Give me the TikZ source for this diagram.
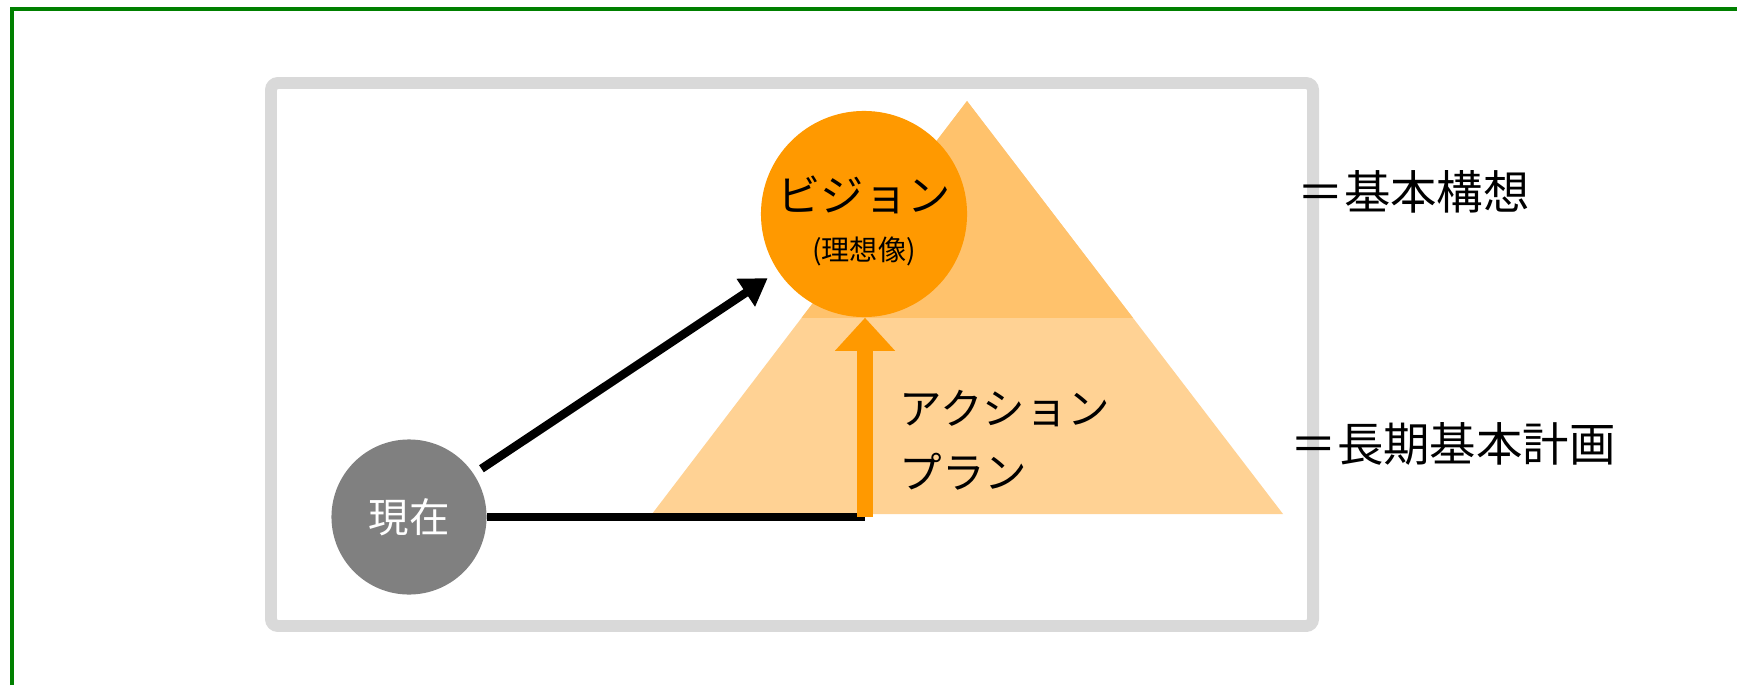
\documentclass[tikz,border=0pt]{standalone}
\usepackage{fontspec}
\setmainfont{Noto Sans CJK JP}
\usetikzlibrary{arrows.meta,positioning}
\definecolor{framegreen}{RGB}{0,128,0}
\definecolor{boxgray}{RGB}{217,217,217}
\definecolor{nowgray}{RGB}{128,128,128}
\definecolor{visionorange}{RGB}{255,153,0}
\definecolor{pyrlight}{RGB}{255,210,148}
\definecolor{pyrdark}{RGB}{255,194,108}

\begin{document}
\begin{tikzpicture}[x=0.01cm,y=-0.01cm,  %one unit is one pixel of the reference
		now/.style={circle,fill=nowgray,text=white,inner sep=0mm,minimum size=1.55cm,font=\fontsize{11.5}{14}\selectfont},
		vision/.style={circle,fill=visionorange,inner sep=0mm,minimum size=2.06cm},
		vision text/.style={align=center,inner sep=0mm,font=\fontsize{12.3}{13.9}\selectfont},
		plan text/.style={anchor=west,align=left,inner sep=0mm,font=\fontsize{12.1}{18.2}\selectfont},
		eq text/.style={anchor=west,inner sep=0mm,font=\fontsize{13.2}{16}\selectfont},
		J arrow/.style={line width=2.4pt,-{Triangle[width=9pt,length=7.5pt]}},
		plan arrow/.style={draw=visionorange,line width=4.4pt,-{Triangle[width=16.5pt,length=9.4pt]}}
	]
	\useasboundingbox (0,0) rectangle (1737,685);
	% frame and box
	\draw[framegreen,line width=1.3pt] (12,685) -- (12,9) -- (1737,9);
	\draw[boxgray,line width=3.4pt,rounded corners=2pt] (271,83) rectangle (1313,626);
	% pyramid
	\coordinate (apex) at (967,101);
	\coordinate (pyrleft) at (652,514);
	\coordinate (pyrright) at (1283,514);
	\fill[pyrlight] (apex) -- (pyrleft) -- (pyrright) -- cycle;
	\begin{scope}
		\clip (0,0) rectangle (1737,317);
		\fill[pyrdark] (apex) -- (pyrleft) -- (pyrright) -- cycle;
	\end{scope}
	
	\node[vision] (vision) at (864,214) {};
	\node[vision text] (visiontitle) at (864,221) {ビジョン\\{\fontsize{8}{9.6}\selectfont (理想像)}};
	\node[now] (now) at (409,517) {現在};
	\coordinate (base) at (865,517);
	
	\draw[J arrow,shorten <=2.5pt,shorten >=3.4pt] (now) -- (vision);
	\draw[line width=2.4pt] (now.east) -- (base);
	\draw[plan arrow] (base) -- (base |- vision.south);
	
	\node[plan text] (plan) at (899,440) {アクション\\プラン};
	\node[eq text] (concept) at (1297,192) {＝基本構想};
	\node[eq text] (longplan) at (1290,444) {＝長期基本計画};
\end{tikzpicture}
\end{document}
